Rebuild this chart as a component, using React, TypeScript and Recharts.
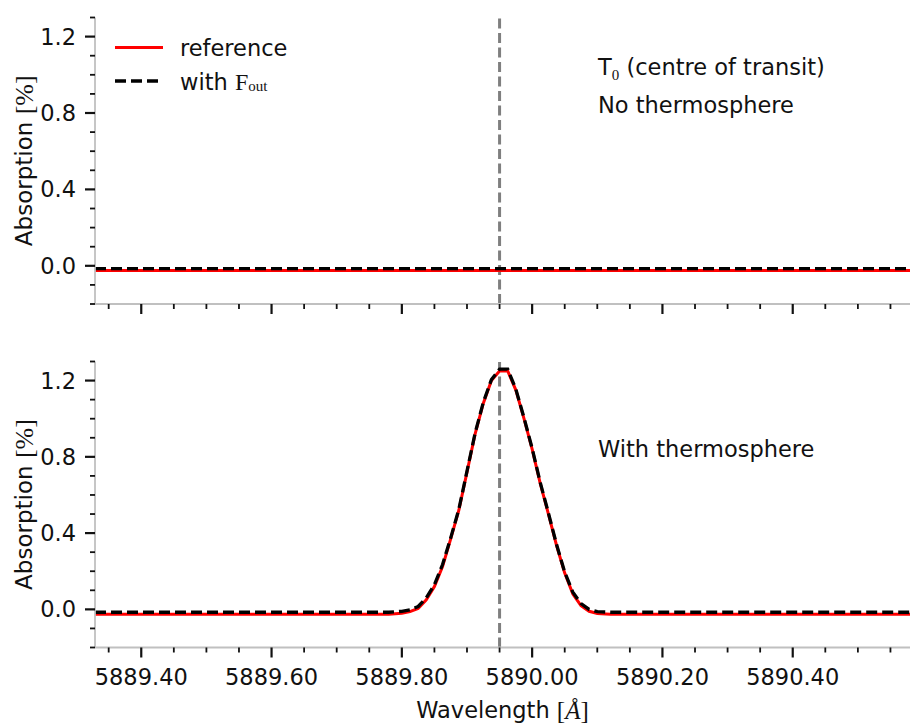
import React from "react";
import { LineChart, Line, XAxis, YAxis, ReferenceLine, Legend } from "recharts";

const SANS = "'DejaVu Sans', sans-serif";
const MATH = "'Liberation Serif', 'DejaVu Serif', serif";
const SPINE = "#c0c0c0";
const INK = "#111";
const FS = 22.5;

// axis windows: wavelength in Angstrom, absorption in %
const X_DOMAIN: [number, number] = [5889.329, 5890.58];
const Y_DOMAIN: [number, number] = [-0.2, 1.3];
const LINE_CENTRE = 5889.95;

const xTicks = [
  5889.35, 5889.4, 5889.45, 5889.5, 5889.55, 5889.6, 5889.65, 5889.7, 5889.75, 5889.8, 5889.85, 5889.9, 5889.95,
  5890.0, 5890.05, 5890.1, 5890.15, 5890.2, 5890.25, 5890.3, 5890.35, 5890.4, 5890.45, 5890.5, 5890.55,
];
const xMajor = [5889.4, 5889.6, 5889.8, 5890.0, 5890.2, 5890.4];
const xMajorLabels = ["5889.40", "5889.60", "5889.80", "5890.00", "5890.20", "5890.40"];

const yTicks = [-0.2, -0.1, 0, 0.1, 0.2, 0.3, 0.4, 0.5, 0.6, 0.7, 0.8, 0.9, 1.0, 1.1, 1.2, 1.3];
const yMajor = [0, 0.4, 0.8, 1.2];
const yMajorLabels = ["0.0", "0.4", "0.8", "1.2"];

// top panel: T0, no thermosphere
const topWavelengths = [5889.329, 5889.95, 5890.58];
const topReference = [-0.025, -0.025, -0.025];
const topWithFout = [-0.015, -0.015, -0.015];

// bottom panel: with thermosphere
const bottomWavelengths = [
  5889.329, 5889.78, 5889.8, 5889.8125, 5889.825, 5889.8375, 5889.85, 5889.8625, 5889.875, 5889.8875, 5889.9,
  5889.9125, 5889.925, 5889.9375, 5889.95, 5889.9625, 5889.975, 5889.9875, 5890.0, 5890.0125, 5890.025, 5890.0375,
  5890.05, 5890.0625, 5890.075, 5890.0875, 5890.1, 5890.12, 5890.58,
];
const bottomReference = [
  -0.025, -0.025, -0.02, -0.012, 0.005, 0.05, 0.12, 0.225, 0.37, 0.52, 0.72, 0.92, 1.08, 1.2, 1.25, 1.25, 1.15, 1.0,
  0.84, 0.66, 0.5, 0.335, 0.19, 0.08, 0.02, -0.01, -0.022, -0.025, -0.025,
];
const bottomWithFout = [
  -0.015, -0.015, -0.01, -0.002, 0.015, 0.06, 0.13, 0.235, 0.375, 0.525, 0.725, 0.925, 1.085, 1.205, 1.26, 1.26,
  1.155, 1.005, 0.845, 0.665, 0.505, 0.34, 0.195, 0.09, 0.03, 0.0, -0.012, -0.015, -0.015,
];

const topData = topWavelengths.map((w, i) => ({ w, ref: topReference[i], fout: topWithFout[i] }));
const bottomData = bottomWavelengths.map((w, i) => ({ w, ref: bottomReference[i], fout: bottomWithFout[i] }));

const majorIndex = (list: number[], v: number) => list.findIndex((m) => Math.abs(m - v) < 1e-6);

function XTick(props: any) {
  const { x, y, payload, side, showLabel } = props;
  const i = majorIndex(xMajor, payload.value);
  const len = i >= 0 ? 10 : 5;
  const dir = side === "top" ? -1 : 1;
  return (
    <g>
      <line x1={x} x2={x} y1={y} y2={y + dir * len} stroke={INK} strokeWidth={i >= 0 ? 2.2 : 1.8} />
      {showLabel && i >= 0 && (
        <text x={x} y={y + 29} textAnchor="middle" dominantBaseline="central" fontFamily={SANS} fontSize={FS} fill={INK}>
          {xMajorLabels[i]}
        </text>
      )}
    </g>
  );
}

function YTick(props: any) {
  const { x, y, payload, side } = props;
  const i = majorIndex(yMajor, payload.value);
  const len = i >= 0 ? 10 : 5;
  const dir = side === "right" ? 1 : -1;
  return (
    <g>
      <line x1={x} x2={x + dir * len} y1={y} y2={y} stroke={INK} strokeWidth={i >= 0 ? 2.2 : 1.8} />
      {side === "left" && i >= 0 && (
        <text x={x - 19} y={y} textAnchor="end" dominantBaseline="central" fontFamily={SANS} fontSize={FS} fill={INK}>
          {yMajorLabels[i]}
        </text>
      )}
    </g>
  );
}

function YLabel(props: any) {
  const vb = props.viewBox;
  const cx = vb.x + 24;
  const cy = vb.y + vb.height / 2;
  return (
    <text
      x={cx}
      y={cy}
      transform={`rotate(-90 ${cx} ${cy})`}
      textAnchor="middle"
      dominantBaseline="central"
      fontFamily={SANS}
      fontSize={23}
      fill={INK}
    >
      Absorption <tspan fontFamily={MATH} fontSize={26}>[%]</tspan>
    </text>
  );
}

function XLabel(props: any) {
  const vb = props.viewBox;
  return (
    <text
      x={vb.x + vb.width / 2}
      y={vb.y + 62}
      textAnchor="middle"
      dominantBaseline="central"
      fontFamily={SANS}
      fontSize={FS}
      fill={INK}
    >
      Wavelength <tspan fontFamily={MATH} fontSize={25}>[</tspan>
      <tspan fontFamily={MATH} fontSize={25} fontStyle="italic">Å</tspan>
      <tspan fontFamily={MATH} fontSize={25}>]</tspan>
    </text>
  );
}

function LegendBox() {
  return (
    <svg width={220} height={70}>
      <line x1={0} x2={48} y1={17.5} y2={17.5} stroke="#ff0000" strokeWidth={3} />
      <text x={65} y={18} dominantBaseline="central" fontFamily={SANS} fontSize={FS} fill={INK}>
        reference
      </text>
      <line x1={0} x2={48} y1={51} y2={51} stroke="#000" strokeWidth={3.3} strokeDasharray="11 5" />
      <text x={65} y={52} dominantBaseline="central" fontFamily={SANS} fontSize={FS} fill={INK}>
        with <tspan fontFamily={MATH} fontSize={24}>F</tspan>
        <tspan fontFamily={MATH} fontSize={15} dy={4}>
          out
        </tspan>
      </text>
    </svg>
  );
}

function Panel({ data, height, top, showXLabels, withLegend }: any) {
  const xAxisHeight = showXLabels ? 79.5 : 26;
  return (
    <LineChart width={913} height={height} data={data} margin={{ top, right: 3, bottom: 0, left: 0 }}>
      <XAxis
        dataKey="w"
        type="number"
        domain={X_DOMAIN}
        allowDataOverflow
        ticks={xTicks}
        interval={0}
        height={xAxisHeight}
        tickSize={0}
        tickMargin={0}
        tickLine={false}
        axisLine={{ stroke: SPINE, strokeWidth: 1.8 }}
        tick={(p: any) => <XTick {...p} side="bottom" showLabel={showXLabels} />}
        label={showXLabels ? (p: any) => <XLabel {...p} /> : undefined}
      />
      <XAxis
        xAxisId="top"
        orientation="top"
        dataKey="w"
        type="number"
        domain={X_DOMAIN}
        allowDataOverflow
        ticks={xTicks}
        interval={0}
        height={0}
        tickSize={0}
        tickMargin={0}
        tickLine={false}
        axisLine={{ stroke: SPINE, strokeWidth: 1.8 }}
        tick={(p: any) => <XTick {...p} side="top" showLabel={false} />}
      />
      <YAxis
        type="number"
        domain={Y_DOMAIN}
        allowDataOverflow
        ticks={yTicks}
        interval={0}
        width={95}
        tickSize={0}
        tickMargin={0}
        tickLine={false}
        axisLine={{ stroke: SPINE, strokeWidth: 1.8 }}
        tick={(p: any) => <YTick {...p} side="left" />}
        label={(p: any) => <YLabel {...p} />}
      />
      <YAxis
        yAxisId="right"
        orientation="right"
        type="number"
        domain={Y_DOMAIN}
        allowDataOverflow
        ticks={yTicks}
        interval={0}
        width={0}
        tickSize={0}
        tickMargin={0}
        tickLine={false}
        axisLine={{ stroke: SPINE, strokeWidth: 1.8 }}
        tick={(p: any) => <YTick {...p} side="right" />}
      />
      <ReferenceLine x={LINE_CENTRE} stroke="#7f7f7f" strokeWidth={3} strokeDasharray="10 4.5" />
      <Line
        type="linear"
        dataKey="ref"
        stroke="#ff0000"
        strokeWidth={3}
        dot={false}
        activeDot={false}
        isAnimationActive={false}
      />
      <Line
        type="linear"
        dataKey="fout"
        stroke="#000000"
        strokeWidth={3.3}
        strokeDasharray="11 5"
        dot={false}
        activeDot={false}
        isAnimationActive={false}
      />
      {withLegend && (
        <Legend
          layout="horizontal"
          verticalAlign="middle"
          align="center"
          content={() => <LegendBox />}
          wrapperStyle={{ position: "absolute", left: 115, top: 30, width: 220, height: 70 }}
        />
      )}
    </LineChart>
  );
}

export default function App() {
  return (
    <div style={{ position: "absolute", left: 0, top: 0, width: 913, height: 727, background: "#fff" }}>
      <div style={{ position: "absolute", left: 0, top: 0 }}>
        <Panel data={topData} height={330} top={17.5} showXLabels={false} withLegend />
      </div>
      <div style={{ position: "absolute", left: 0, top: 330 }}>
        <Panel data={bottomData} height={397} top={31.5} showXLabels withLegend={false} />
      </div>
      <svg
        width={913}
        height={727}
        style={{ position: "absolute", left: 0, top: 0, pointerEvents: "none" }}
        fontFamily={SANS}
        fontSize={FS}
        fill={INK}
      >
        <text x={598} y={75}>
          T
          <tspan fontFamily={MATH} fontSize={15} dy={5}>
            0
          </tspan>
          <tspan dy={-5}> (centre of transit)</tspan>
        </text>
        <text x={598} y={113}>
          No thermosphere
        </text>
        <text x={598} y={457}>
          With thermosphere
        </text>
      </svg>
    </div>
  );
}
